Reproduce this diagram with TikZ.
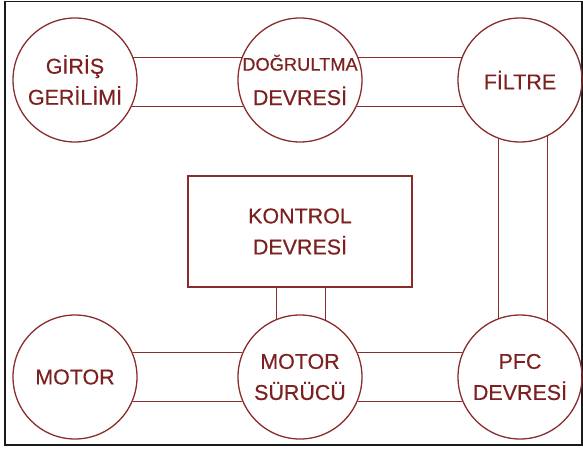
\documentclass[tikz,border=0pt]{standalone}
\usepackage{fontspec}
\setmainfont[FakeBold=0.4]{Liberation Sans}
\usetikzlibrary{positioning}
\definecolor{wine}{HTML}{8A2C2C}
\definecolor{winetext}{HTML}{7C2020}
\definecolor{framecol}{HTML}{1A1A1A}

\begin{document}
\begin{tikzpicture}[
  font=\fontsize{18.3}{26.5}\selectfont,
  text=winetext,
  block/.style={
    draw=wine,
    line width=1.1pt,
    circle,
    inner sep=0pt,
    minimum size=3.72cm,
    align=center
  },
  panel/.style={
    draw=wine,
    line width=1.1pt,
    align=center,
    minimum width=6.72cm,
    minimum height=3.33cm
  },
  link/.style={draw=wine, line width=1.1pt}
]

\useasboundingbox (0,0) rectangle (17.49,13.5);
\draw[framecol, line width=1.6pt] (0.15,0.15) rectangle (17.46,13.455);

% Upper row: supply side
\node[block] (giris) at (2.25,11.10) {GİRİŞ\\GERİLİMİ};
\node[block] (dogrultma) at (9.00,11.10) {\makebox[3cm][c]{\fontsize{15.6}{26.5}\selectfont DOĞRULTMA}\\[0.1cm]DEVRESİ};
\node[block] (filtre) at (15.60,11.10) {FİLTRE};

\draw[link] (giris.21) -- (dogrultma.159);
\draw[link] (giris.-25) -- (dogrultma.-155);
\draw[link] (dogrultma.21) -- (filtre.159);
\draw[link] (dogrultma.-25) -- (filtre.-155);

% Lower row: drive side
\node[block] (motor) at (2.25,2.19) {MOTOR};
\node[block] (surucu) at (9.00,2.19) {MOTOR\\SÜRÜCÜ};
\node[block] (pfc) at (15.60,2.19) {PFC\\DEVRESİ};

\draw[link] (filtre.250) -- (pfc.110);
\draw[link] (filtre.296) -- (pfc.64);
\draw[link] (surucu.23) -- (pfc.157);
\draw[link] (surucu.-23) -- (pfc.-157);
\draw[link] (motor.23) -- (surucu.157);
\draw[link] (motor.-23) -- (surucu.-157);

% Control block
\node[panel] (kontrol) at (9.00,6.555) {KONTROL\\DEVRESİ};

\draw[link] (surucu.112) -- (surucu.112 |- kontrol.south);
\draw[link] (surucu.66) -- (surucu.66 |- kontrol.south);

\end{tikzpicture}
\end{document}
